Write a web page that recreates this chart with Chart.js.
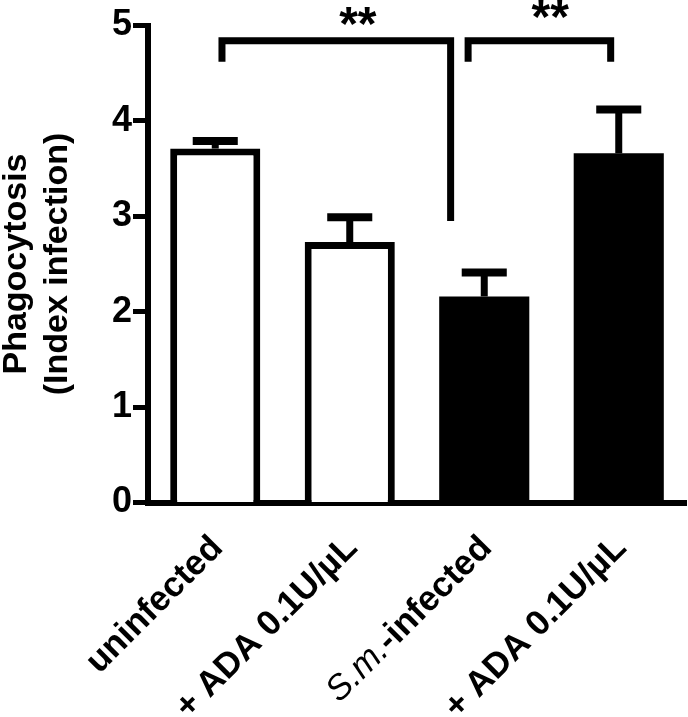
<!DOCTYPE html>
<html>
<head>
<meta charset="utf-8">
<title>Phagocytosis</title>
<script src="https://cdn.jsdelivr.net/npm/chart.js@4"></script>
<style>
  html, body { margin: 0; padding: 0; background: #fff; }
  #chart { display: block; }
</style>
</head>
<body>
<canvas id="chart" width="688" height="717"></canvas>
<script>
// groups on the x axis
const groups = ['uninfected', '+ ADA 0.1U/µL', 'S.m.-infected', '+ ADA 0.1U/µL'];
// mean phagocytosis index and SEM
const means = [3.71, 2.73, 2.16, 3.66];
const sems = [0.08, 0.26, 0.25, 0.46];
const fillColors = ['#ffffff', '#ffffff', '#000000', '#000000'];
const yTicks = [0, 1, 2, 3, 4, 5];

// significance brackets (x in category units, y in axis units)
const bracketFrom = [0.05, 1.88];
const bracketTo = [1.75, 2.94];
const bracketTop = [4.84, 4.84];
const bracketLeftEnd = [4.62, 4.62];
const bracketRightEnd = [2.95, 4.62];
const starLabels = ['**', '**'];
const starX = [1.06, 2.49];
const starY = [4.85, 4.92];

const FONT = "'Liberation Sans', Arial, sans-serif";

// error bars, brackets, stars and the slanted group labels
const extrasPlugin = {
    id: 'extras',
    afterDatasetsDraw(chart) {
        const ctx = chart.ctx;
        const x = chart.scales.x;
        const y = chart.scales.y;
        const meta = chart.getDatasetMeta(0);

        ctx.save();
        ctx.strokeStyle = '#000';
        ctx.fillStyle = '#000';
        ctx.lineCap = 'butt';

        // upper half of the SEM only
        meta.data.forEach((bar, i) => {
            const top = y.getPixelForValue(means[i] + sems[i]);
            const half = bar.width / 4;
            ctx.lineWidth = 7;
            ctx.beginPath();
            ctx.moveTo(bar.x, bar.y);
            ctx.lineTo(bar.x, top);
            ctx.stroke();
            ctx.lineWidth = 8;
            ctx.beginPath();
            ctx.moveTo(bar.x - half, top);
            ctx.lineTo(bar.x + half, top);
            ctx.stroke();
        });

        ctx.lineWidth = 7;
        ctx.lineJoin = 'miter';
        bracketFrom.forEach((from, i) => {
            const x1 = x.getPixelForValue(from);
            const x2 = x.getPixelForValue(bracketTo[i]);
            const yt = y.getPixelForValue(bracketTop[i]);
            ctx.beginPath();
            ctx.moveTo(x1, y.getPixelForValue(bracketLeftEnd[i]));
            ctx.lineTo(x1, yt);
            ctx.lineTo(x2, yt);
            ctx.lineTo(x2, y.getPixelForValue(bracketRightEnd[i]));
            ctx.stroke();
        });

        ctx.font = 'bold 48px ' + FONT;
        ctx.textAlign = 'center';
        ctx.textBaseline = 'alphabetic';
        starLabels.forEach((s, i) => {
            ctx.fillText(s, x.getPixelForValue(starX[i]), y.getPixelForValue(starY[i]));
        });
        ctx.restore();
    },
    afterDraw(chart) {
        const ctx = chart.ctx;
        const x = chart.scales.x;
        const baseY = chart.chartArea.bottom + 47;

        ctx.save();
        ctx.fillStyle = '#000';
        ctx.textBaseline = 'alphabetic';
        ctx.textAlign = 'right';
        groups.forEach((label, i) => {
            ctx.save();
            ctx.translate(x.getPixelForValue(i) + 9, baseY);
            ctx.rotate(-Math.PI / 4);
            if (label.startsWith('S.m.')) {
                // species name in italics, rest bold
                const rest = label.slice(4);
                ctx.font = 'bold 35px ' + FONT;
                const wRest = ctx.measureText(rest).width;
                ctx.fillText(rest, 0, 0);
                ctx.font = 'italic 35px ' + FONT;
                ctx.fillText('S.m.', -wRest, 0);
            } else {
                ctx.font = 'bold 35px ' + FONT;
                ctx.fillText(label, 0, 0);
            }
            ctx.restore();
        });
        ctx.restore();
    }
};

new Chart(document.getElementById('chart'), {
    type: 'bar',
    data: {
        labels: groups,
        datasets: [{
            data: means,
            backgroundColor: fillColors,
            borderColor: '#000',
            borderWidth: [7, 7, 0, 0],
            borderSkipped: 'start',
            barPercentage: 0.67,
            categoryPercentage: 1
        }]
    },
    options: {
        responsive: false,
        animation: false,
        layout: { padding: { top: 25.5, right: 2, left: 0, bottom: 0 } },
        plugins: {
            legend: { display: false },
            tooltip: { enabled: false }
        },
        scales: {
            x: {
                grid: { display: false },
                border: { display: true, color: '#000', width: 6 },
                ticks: { display: false },
                afterFit(scale) { scale.height = 214.5; }
            },
            y: {
                min: 0,
                max: 5,
                afterBuildTicks(scale) { scale.ticks = yTicks.map(v => ({ value: v })); },
                ticks: {
                    color: '#000',
                    padding: 1,
                    font: { family: FONT, size: 36, weight: 'bold' }
                },
                grid: {
                    display: true,
                    drawOnChartArea: false,
                    drawTicks: true,
                    tickLength: 15,
                    tickWidth: 5,
                    tickColor: '#000',
                    color: '#000'
                },
                border: { display: true, color: '#000', width: 6 },
                title: {
                    display: true,
                    text: ['Phagocytosis', '(Index infection)'],
                    color: '#000',
                    font: { family: FONT, size: 34, weight: 'bold', lineHeight: 1.18 },
                    padding: { top: -3, bottom: 0 }
                },
                afterFit(scale) { scale.width = 148; }
            }
        }
    },
    plugins: [extrasPlugin]
});
</script>
</body>
</html>
